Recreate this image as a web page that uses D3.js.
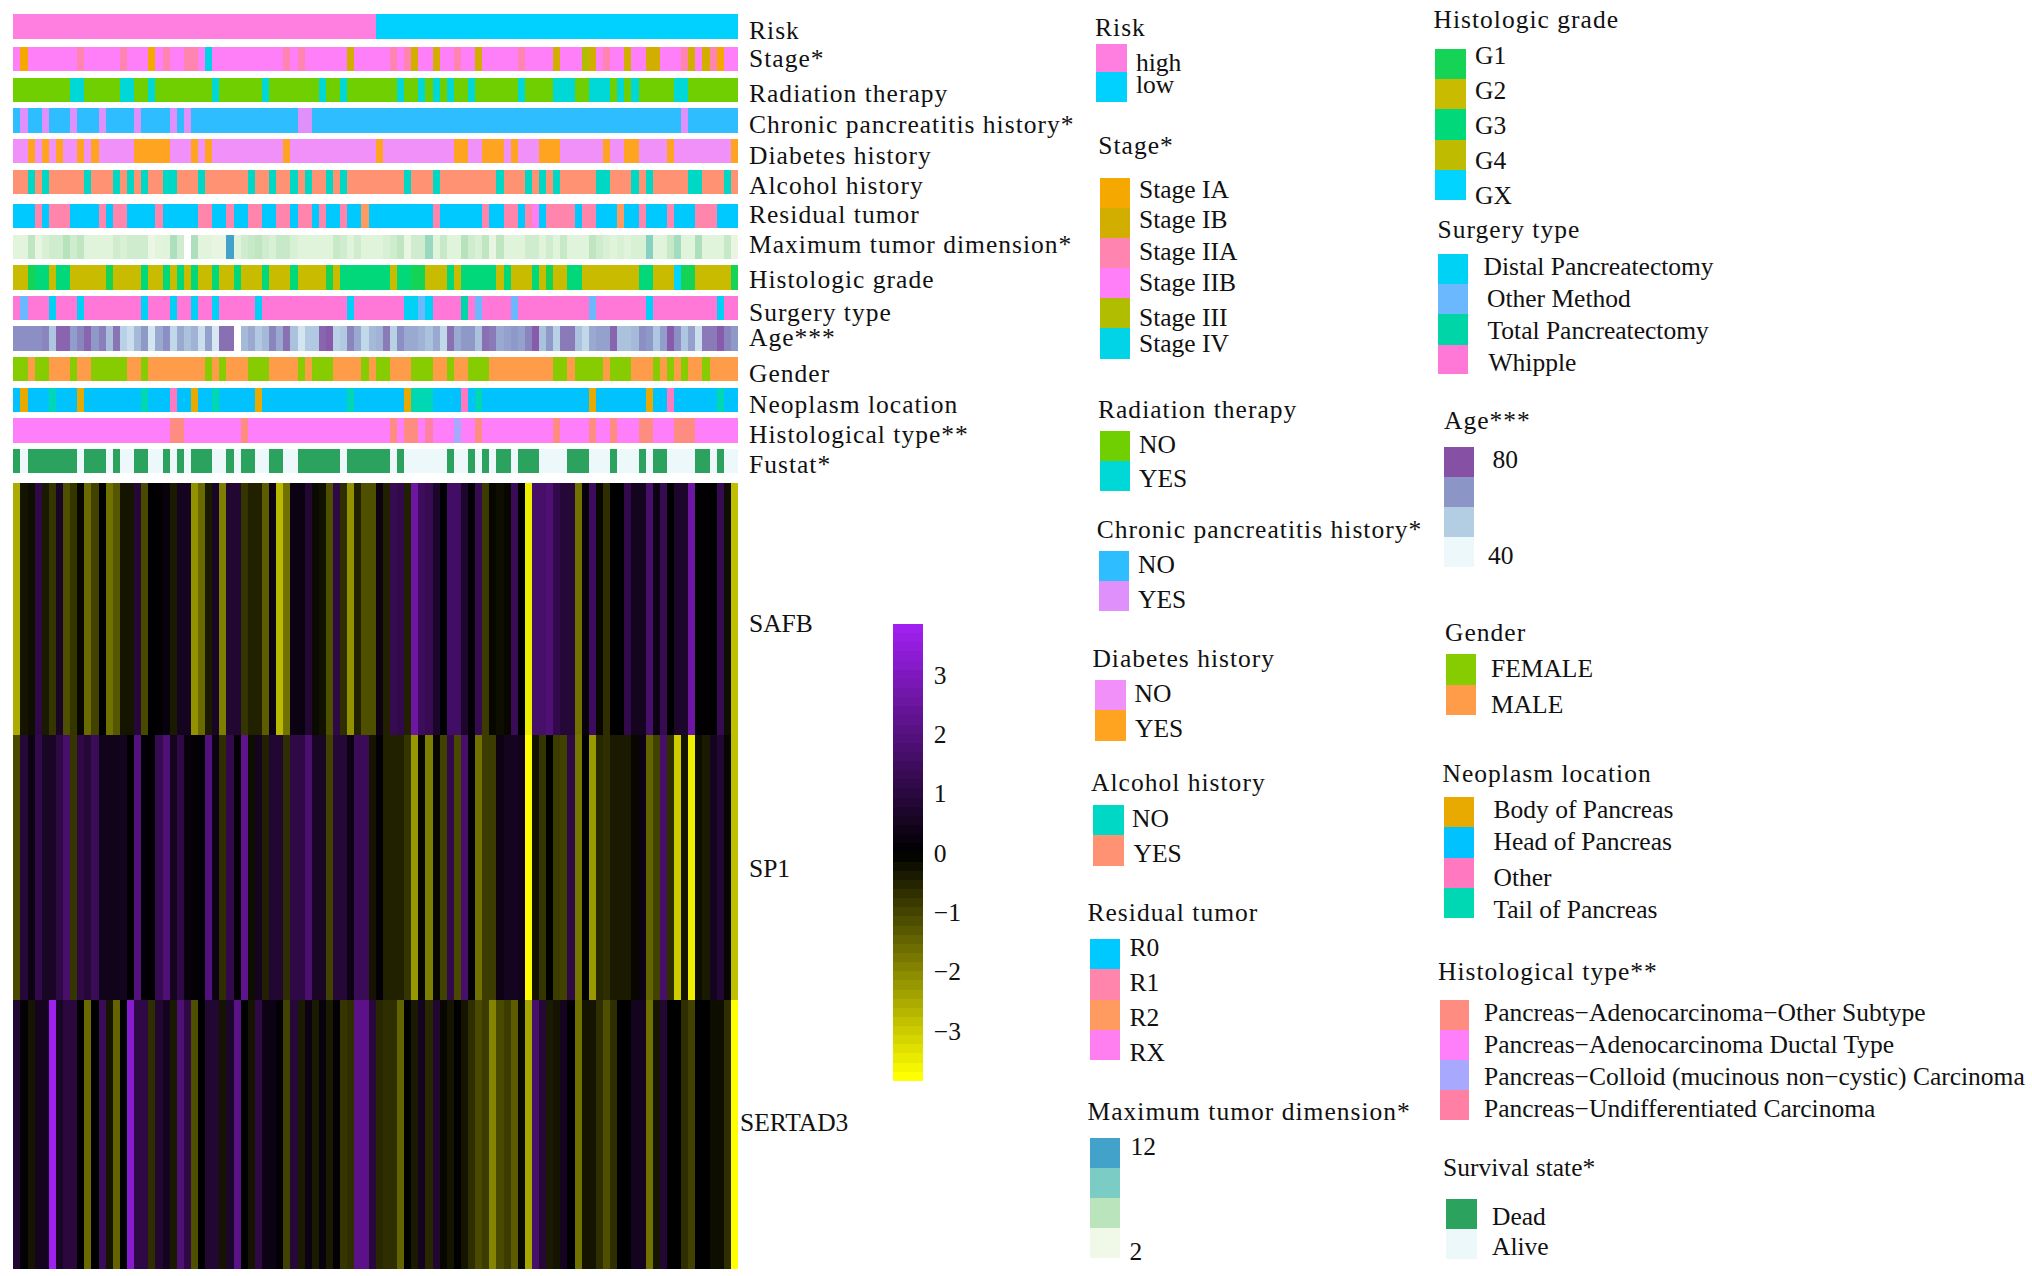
<!DOCTYPE html>
<html><head><meta charset="utf-8">
<script src="https://cdn.jsdelivr.net/npm/d3@7"></script>
<style>html,body{margin:0;padding:0;background:#fff}svg{display:block}text{font-family:"Liberation Serif","Times New Roman",serif;fill:#111}</style>
</head><body><svg id="c" width="2032" height="1276"></svg>
<script>
const N=102;
const riskHighCols=d3.range(0,51);
const stageCols={"Stage IA":[1,19,99],"Stage IB":[47,56,59,65,76,81,86,89,90,95,97],"Stage IIA":[9,15,21,24,25,38,40,53,55,62,71,83,94,98],"Stage III":[80],"Stage IV":[27]};
const radiationYes=[8,9,15,16,19,28,35,43,46,54,57,59,61,64,71,76,77,78,81,82,83,85,87,93,94];
const chronicYes=[1,4,8,12,17,22,24,40,41,94];
const diabetesYes=[2,4,6,9,11,17,18,19,20,21,25,27,38,51,62,63,66,67,68,70,74,75,76,83,86,87,92,101];
const alcoholNo=[2,4,10,14,16,18,21,22,26,33,36,39,41,44,46,55,59,68,72,74,76,82,83,87,89,95,96,100];
const residualCols={R1:[3,5,6,7,12,14,15,20,26,27,30,33,34,37,38,40,41,43,46,59,66,69,70,72,75,76,77,78,80,81,88,92,96,97,98],R2:[49,85],RX:[73]};
const maxTumor=[2.8,2.8,5,2.5,3.5,4,4,5.5,4,5,3,3,3,3,4,3.5,4,4,4,2.3,2.8,3,6,4,null,6,2.8,2.8,2.5,2.5,12,3,4,4.5,5,4,3.5,4.5,4.5,3.5,3,3,3,3,3,4.5,4,3,4,3,3,3,3.5,4,5,2.5,4,4,7,3,4.5,3,3,5.5,4,3.5,5,2.5,5,3,3,3,4,4,3,4,3,4.5,3,3,3,5,4,3.5,3,3.5,3,3.5,3.5,8,3,3,4.5,6.5,3,3,6,3,3,3,4.5,2.5];
const gradeCols={G1:[2,13,44,56,57,75,94,95,101],G3:[3,4,6,7,18,21,23,25,28,31,35,39,46,47,48,49,50,51,52,54,55,61,63,64,65,66,67,69,73,78,79,88,89],GX:[93]};
const surgeryCols={"Distal Pancreatectomy":[5,9,18,22,25,28,34,47,55,56,58,89,99],"Other Method":[1,57,65,70,81],"Total Pancreatectomy":[63]};
const age=[68,68,68,68,70,55,76,76,65,70,76,66,71,57,73,52,48,58,66,46,62,68,50,62,56,60,48,64,45,74,74,null,58,62,54,58,70,62,74,56,46,54,54,76,78,52,54,70,62,50,58,60,72,52,68,62,62,60,56,62,50,74,62,66,66,56,74,72,62,64,66,64,70,78,56,66,52,72,72,56,50,62,64,64,76,56,56,58,68,66,55,65,78,68,55,64,48,72,72,78,70,66];
const femaleCols=[0,1,3,4,8,11,12,13,14,15,18,27,29,33,34,35,40,42,43,44,49,51,52,56,57,58,61,64,65,66,76,77,79,80,81,82,84,85,86,90,92,94,97];
const neoplasmCols={"Body of Pancreas":[1,9,25,34,55,81,89],"Other":[22,63,92],"Tail of Pancreas":[5,18,28,47,56,57,58,65,99]};
const histTypeCols={"Other Subtype":[22,23,32,53,55,56,65,76,81,84,88,89,93,94,95],"Colloid":[62],"Undifferentiated":[58]};
const deadCols=[0,2,3,4,5,6,7,8,10,11,12,14,17,18,21,23,25,26,27,30,32,33,36,37,40,41,42,43,44,45,47,48,49,50,51,52,54,61,64,66,68,69,71,72,73,78,79,80,84,88,90,91,96,97,99];
const safb=[-2.6,-.3,-.2,1.1,-.4,-.8,.6,-1.2,-.8,-.1,-1.6,-1,0,-1.7,-1.3,-.3,-.3,.9,-1.1,0,.05,.2,-.4,.5,.5,-2.2,-1.6,-.4,.6,-1.9,.8,.8,-.8,-.5,-.5,-1.4,.3,-2.8,-1.7,.3,.25,.8,-.15,-.25,-1.2,1.1,-.7,-2.2,-.5,-1.2,-1.2,.3,-.5,1.3,1.2,-.5,2.6,1.5,1.3,.7,0,1.6,1.6,.7,.1,1.3,-.9,-.1,-.2,-.1,1.4,0,-3.6,1.7,1.7,1.9,1.2,.9,.9,-1.7,.2,1.5,-.1,-.7,0,0,1.2,.5,.5,1.7,.3,1.3,0,.7,.7,2.6,0,.05,0,1.3,-.2,-2.9];
const sp1=[-1.1,.9,.3,1.2,.6,.6,1.1,1.7,-.8,1.1,.9,1.4,.4,.4,.4,.5,0,2,.05,.05,1.3,1.9,.5,1.1,.2,.1,.1,2,.3,-.7,1.2,.1,2.3,-.2,.5,-.5,.8,.8,-.7,1.1,1.1,1.8,.6,.6,-1,.9,.9,.3,1.4,1.4,-.3,.1,-.5,-.5,-.5,-.8,-2.3,-.1,-1.9,-.1,-1,1.2,-1.1,1.7,.1,-1.7,-.9,-.9,.3,.5,.5,.4,-3.85,-.3,-.8,0,-.9,-1,1.1,-1.8,0,-2.3,-.6,-.7,-.4,-.4,-.4,-.1,.3,-1.5,-1,1.7,-.7,-3.1,-.3,-3.6,-.2,-.4,.5,.8,-.1,-2.9];
const sertad3=[.8,.1,-.3,.5,.5,3.85,.6,1,1,0,-1.6,0,1.4,-.3,-1.5,0,3.3,1.1,1.1,-.7,.8,.5,-.4,1.9,1.1,-1.2,0,.8,.8,-.3,.7,2.2,0,-.3,1.1,.3,.3,.1,-1,.9,-.4,.3,-.4,.2,-.4,.1,-.8,-.7,2.2,2.2,1,-.6,-.7,-.7,-1.5,0,-.4,.5,-.6,.8,-.1,-.3,0,-.3,-.7,-1.1,-.9,-2,-1.1,-.9,-1.4,-.15,-2.5,1.7,.9,-.4,-.3,.5,0,-1.7,-.3,-.3,-.7,-1.2,-.7,0,0,.5,.5,-1.7,-.3,.8,0,0,-.7,-1,0,0,-.2,-.2,-.7,-3.85];
const genes=["SAFB","SP1","SERTAD3"];
const geneValues=[safb,sp1,sertad3];
const colorbarTicks=[-3,-2,-1,0,1,2,3];

const scaleStops={maxTumor:{domain:[2,5.33,8.67,12],range:["#f0f9e8","#bae4bc","#7bccc4","#43a2ca"]},age:{domain:[40,53.3,66.7,80],range:["#edf8fb","#b3cde3","#8c96c6","#8650a4"]}};
const maxColor=d3.scaleLinear(scaleStops.maxTumor.domain,scaleStops.maxTumor.range);
const ageColor=d3.scaleLinear(scaleStops.age.domain,scaleStops.age.range);
const heatColor=d3.scaleLinear([-3.85,0,3.85],["#ffff00","#000000","#a020f0"]);

const col=(base,map)=>d3.range(N).map(i=>{for(const k in map)if(map[k].includes(i))return k;return base;});
const pal={
 risk:{high:"#ff7fe0",low:"#00d1ff"},
 stage:{"Stage IA":"#f5a800","Stage IB":"#d2ae00","Stage IIA":"#ff85b0","Stage IIB":"#ff7ff8","Stage III":"#b0bd00","Stage IV":"#00d4e6"},
 rad:{NO:"#70cf00",YES:"#00d8d8"},chronic:{NO:"#2ebdff",YES:"#e090fa"},diab:{NO:"#f090f8",YES:"#ffa420"},alc:{NO:"#00d8c6",YES:"#ff9272"},
 res:{R0:"#00c9ff",R1:"#ff85ac",R2:"#ff9a60",RX:"#ff7ff0"},
 grade:{G1:"#14d355",G2:"#c9bb00",G3:"#00d87a",G4:"#bfbb00",GX:"#00d4ff"},
 surg:{"Distal Pancreatectomy":"#00d2f5","Other Method":"#6cb8ff","Total Pancreatectomy":"#00d5a8","Whipple":"#ff78d8"},
 gender:{FEMALE:"#86cc00",MALE:"#ff9c4a"},
 neo:{"Body of Pancreas":"#e8aa00","Head of Pancreas":"#00c2ff","Other":"#ff78c0","Tail of Pancreas":"#00d8b4"},
 hist:{"Other Subtype":"#ff8c80","Ductal":"#ff7ffa","Colloid":"#a8a8ff","Undifferentiated":"#ff80a4"},
 fustat:{Dead:"#2ca25f",Alive:"#edf8fb"}
};
const cat=(p,base,map)=>col(base,map).map(k=>pal[p][k]);
const strips=[
 {label:"Risk",y:14.3,cy:30,cells:cat("risk","low",{high:riskHighCols})},
 {label:"Stage*",y:47,cy:58,cells:cat("stage","Stage IIB",stageCols)},
 {label:"Radiation therapy",y:77.7,cy:93,cells:cat("rad","NO",{YES:radiationYes})},
 {label:"Chronic pancreatitis history*",y:108.3,cy:124,cells:cat("chronic","NO",{YES:chronicYes})},
 {label:"Diabetes history",y:139,cy:155,cells:cat("diab","NO",{YES:diabetesYes})},
 {label:"Alcohol history",y:169.7,cy:185,cells:cat("alc","YES",{NO:alcoholNo})},
 {label:"Residual tumor",y:204,cy:214,cells:cat("res","R0",residualCols)},
 {label:"Maximum tumor dimension*",y:234.7,cy:244,cells:maxTumor.map(v=>v==null?"#fff":maxColor(v))},
 {label:"Histologic grade",y:265.3,cy:279,cells:cat("grade","G2",gradeCols)},
 {label:"Surgery type",y:295.7,cy:312,cells:cat("surg","Whipple",surgeryCols)},
 {label:"Age***",y:326.3,cy:337,cells:age.map(v=>v==null?"#fff":ageColor(v))},
 {label:"Gender",y:357,cy:373,cells:cat("gender","MALE",{FEMALE:femaleCols})},
 {label:"Neoplasm location",y:387.7,cy:404,cells:cat("neo","Head of Pancreas",neoplasmCols)},
 {label:"Histological type**",y:418.3,cy:434,cells:cat("hist","Ductal",histTypeCols)},
 {label:"Fustat*",y:449,cy:464,cells:cat("fustat","Alive",{Dead:deadCols})}
];
const svg=d3.select("#c");
const x=d3.scaleBand().domain(d3.range(N)).range([13.33,738]);
const FS=25.5, LS=1.02, DY=".35em";
strips.forEach(s=>{
 svg.append("g").selectAll("rect").data(s.cells).join("rect").attr("x",(d,i)=>x(i)).attr("y",s.y).attr("width",x.bandwidth()+.2).attr("height",24.3).attr("fill",d=>d).attr("shape-rendering","crispEdges");
 svg.append("text").attr("x",749).attr("y",s.cy).attr("dy",DY).attr("font-size",FS).attr("letter-spacing",LS).text(s.label);
});
const rowTop=d3.scaleOrdinal(genes,[482.7,734.7,1000]);
const rowH=d3.scaleOrdinal(genes,[252,265.3,268.7]);
const rowLabel=[{x:749,y:623},{x:749,y:868},{x:740,y:1122}];
genes.forEach((g,r)=>{
 svg.append("g").selectAll("rect").data(geneValues[r]).join("rect").attr("x",(d,i)=>x(i)).attr("y",rowTop(g)).attr("width",x.bandwidth()+.2).attr("height",rowH(g)).attr("fill",d=>heatColor(d)).attr("shape-rendering","crispEdges");
 svg.append("text").attr("x",rowLabel[r].x).attr("y",rowLabel[r].y).attr("dy",DY).attr("font-size",FS).text(g);
});
// colour bar
const cbY=d3.scaleLinear([-3.85,3.85],[1080.6,623.7]);
const steps=d3.range(50).map(i=>-3.85+7.7*i/49);
svg.append("g").selectAll("rect").data(steps).join("rect").attr("x",892.5).attr("width",30.3).attr("y",(d,i)=>cbY(-3.85+7.7*(i+1)/50)).attr("height",cbY.range()[0]/50-cbY.range()[1]/50+.3).attr("fill",d=>heatColor(d)).attr("shape-rendering","crispEdges");
const ax=svg.append("g").attr("transform","translate(922.8,0)").call(d3.axisRight(cbY).tickValues(colorbarTicks).tickSize(0).tickPadding(11));
ax.select(".domain").remove();
ax.selectAll("text").attr("font-size",FS).style("font-family",'"Liberation Serif",serif').attr("dy",DY);
// legends
const legends=[
 {t:"Risk",tx:1095,ty:27,sx:1096.3,sw:30.4,edges:[44,72,101.6],colors:[pal.risk.high,pal.risk.low],labels:[{s:"high",x:1136,y:62},{s:"low",x:1136,y:84}]},
 {t:"Stage*",tx:1098.3,ty:145,sx:1100,sw:30.3,edges:[177.5,207.8,238.4,268,298,328,358.8],colors:Object.values(pal.stage),labels:[["Stage IA",189],["Stage IB",219],["Stage IIA",250.6],["Stage IIB",281.6],["Stage III",316.7],["Stage IV",343]].map(a=>({s:a[0],x:1139,y:a[1]}))},
 {t:"Radiation therapy",tx:1098,ty:409,sx:1100,sw:30.3,edges:[430.6,461,491],colors:Object.values(pal.rad),labels:[{s:"NO",x:1139,y:443.7},{s:"YES",x:1139,y:478}]},
 {t:"Chronic pancreatitis history*",tx:1096.7,ty:529,sx:1098.7,sw:30,edges:[551,581,611],colors:Object.values(pal.chronic),labels:[{s:"NO",x:1138,y:563.7},{s:"YES",x:1138,y:598.8}]},
 {t:"Diabetes history",tx:1092.4,ty:658,sx:1095.4,sw:30.2,edges:[680.2,710.3,740.5],colors:Object.values(pal.diab),labels:[{s:"NO",x:1134.5,y:693},{s:"YES",x:1135,y:728}]},
 {t:"Alcohol history",tx:1091,ty:782,sx:1093.4,sw:30.6,edges:[805.2,835.3,865.5],colors:Object.values(pal.alc),labels:[{s:"NO",x:1132,y:818},{s:"YES",x:1133.5,y:853}]},
 {t:"Residual tumor",tx:1087.5,ty:912,sx:1089.6,sw:30.4,edges:[938.8,969.4,999.6,1029.7,1060],colors:Object.values(pal.res),labels:[["R0",947.4],["R1",982.3],["R2",1017],["RX",1052]].map(a=>({s:a[0],x:1129.5,y:a[1]}))},
 {t:"Maximum tumor dimension*",tx:1087.5,ty:1111,sx:1089.6,sw:30.4,edges:[1137.5,1167.7,1197.8,1228,1258],colors:[12,8.67,5.33,2].map(v=>maxColor(v)),labels:[{s:"12",x:1130.5,y:1145.7},{s:"2",x:1129.5,y:1251}]},
 {t:"Histologic grade",tx:1433.5,ty:19.5,sx:1435.3,sw:30.4,edges:[49,79.2,109.4,140,169.8,200],colors:Object.values(pal.grade),labels:[["G1",55],["G2",90],["G3",125.3],["G4",160],["GX",195]].map(a=>({s:a[0],x:1475,y:a[1]}))},
 {t:"Surgery type",tx:1437.5,ty:229,sx:1437.8,sw:30.2,edges:[253.9,284,314.3,344.5,374.3],colors:Object.values(pal.surg),labels:[{s:"Distal Pancreatectomy",x:1483.5,y:266.5},{s:"Other Method",x:1487,y:298},{s:"Total Pancreatectomy",x:1487.5,y:330},{s:"Whipple",x:1488.5,y:362}]},
 {t:"Age***",tx:1444,ty:420,sx:1443.6,sw:30,edges:[446.5,476.7,507,537,566.5],colors:[80,66.7,53.3,40].map(v=>ageColor(v)),labels:[{s:"80",x:1492.5,y:459},{s:"40",x:1488,y:555.5}]},
 {t:"Gender",tx:1445,ty:632,sx:1446,sw:30.2,edges:[654.3,684.9,715],colors:Object.values(pal.gender),labels:[{s:"FEMALE",x:1491,y:668},{s:"MALE",x:1491,y:704}]},
 {t:"Neoplasm location",tx:1442.5,ty:773,sx:1444,sw:30,edges:[797.4,827.1,857.7,887.8,917.9],colors:Object.values(pal.neo),labels:[["Body of Pancreas",809.5],["Head of Pancreas",841],["Other",877.3],["Tail of Pancreas",909.5]].map(a=>({s:a[0],x:1493.5,y:a[1]}))},
 {t:"Histological type**",tx:1438,ty:971.5,sx:1439.5,sw:29.9,edges:[1000,1030,1060,1090,1120],colors:Object.values(pal.hist),labels:[["Pancreas\u2212Adenocarcinoma\u2212Other Subtype",1012],["Pancreas\u2212Adenocarcinoma Ductal Type",1044],["Pancreas\u2212Colloid (mucinous non\u2212cystic) Carcinoma",1076],["Pancreas\u2212Undifferentiated Carcinoma",1108]].map(a=>({s:a[0],x:1484,y:a[1]}))},
 {t:"Survival state*",tx:1443,ty:1167,ls:0,sx:1446.4,sw:30.2,edges:[1198.7,1228.8,1258.5],colors:Object.values(pal.fustat),labels:[{s:"Dead",x:1492,y:1216},{s:"Alive",x:1492,y:1246}]}
];
legends.forEach(l=>{
 const g=svg.append("g");
 g.append("text").attr("x",l.tx).attr("y",l.ty).attr("dy",DY).attr("font-size",FS).attr("letter-spacing",l.ls==null?LS:l.ls).text(l.t);
 g.selectAll("rect").data(l.colors).join("rect").attr("x",l.sx).attr("width",l.sw).attr("y",(d,i)=>l.edges[i]).attr("height",(d,i)=>l.edges[i+1]-l.edges[i]).attr("fill",d=>d).attr("shape-rendering","crispEdges");
 g.selectAll("text.l").data(l.labels).join("text").attr("class","l").attr("x",d=>d.x).attr("y",d=>d.y).attr("dy",DY).attr("font-size",FS).text(d=>d.s);
});
</script></body></html>
